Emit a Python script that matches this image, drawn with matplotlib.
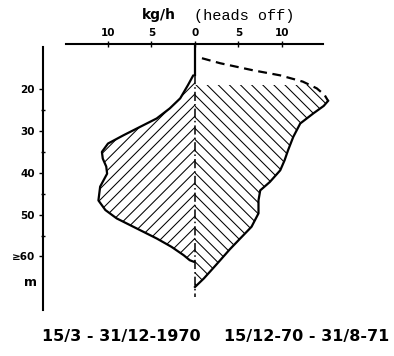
import matplotlib
matplotlib.use("Agg")
import matplotlib.pyplot as plt
import numpy as np

# catch rate (kg/h, heads off) against depth (m)
# left side: 15/3 - 31/12-1970
left_depth = [16.7, 19.0, 22.2, 24.6, 27.0, 29.0, 31.0, 33.0, 35.0, 36.6, 38.5,
              40.2, 43.3, 46.6, 48.9, 50.9, 53.3, 55.7, 57.7, 59.7, 60.9, 61.3]
left_rate = [0.2, 0.8, 1.7, 2.9, 4.4, 6.3, 8.2, 10.0, 10.7, 10.6, 10.2,
             10.1, 10.9, 11.1, 10.3, 9.0, 6.7, 4.4, 2.7, 1.3, 0.6, 0.1]

# right side: 15/12-70 - 31/8-71 (dashed where uncertain, above ~23 m)
right_depth = [12.6, 13.8, 15.5, 16.7, 18.2, 19.0, 19.8, 21.4, 22.8, 24.0, 25.8,
               28.2, 31.4, 34.6, 37.0, 39.4, 42.2, 44.2, 46.6, 49.7, 52.9, 55.7,
               58.3, 60.9, 63.0, 65.3, 67.3]
right_rate = [0.8, 2.9, 6.7, 9.8, 12.4, 13.2, 14.0, 14.9, 15.3, 14.8, 13.6,
              12.1, 11.3, 10.7, 10.3, 9.8, 8.6, 7.5, 7.3, 7.3, 6.5, 5.2,
              4.0, 2.9, 2.0, 1.0, 0.0]
dashed_until = 22.8
hatch_from = 19.0

x_ticks = [-10, -5, 0, 5, 10]
x_ticklabels = ["10", "5", "0", "5", "10"]
y_ticks = [20, 30, 40, 50, 60]
y_ticklabels = ["20", "30", "40", "50", "\u226560"]
y_minor = [25, 35, 45, 55]

plt.rcParams['hatch.linewidth'] = 0.75

W, H = 394, 356
fig = plt.figure(figsize=(W / 100, H / 100), dpi=100)
ax = fig.add_axes([43 / W, 1 - 310 / H, (330 - 43) / W, (310 - 44) / H])
ax.set_xlim(-17.47, 15.52)
ax.set_ylim(72.8, 9.2)

ld = np.array(left_depth)
lr = -np.array(left_rate)
rd = np.array(right_depth)
rr = np.array(right_rate)

# hatched areas
ax.fill_betweenx(ld, lr, 0, facecolor='none', edgecolor='black', linewidth=0, hatch='///')
m = rd >= hatch_from
ax.fill_betweenx(rd[m], 0, rr[m], facecolor='none', edgecolor='black', linewidth=0, hatch='\\\\\\')

# outlines
ax.plot(lr, ld, color='black', lw=1.6, solid_capstyle='round')
d = rd <= dashed_until
ax.plot(rr[d], rd[d], color='black', lw=1.6, linestyle=(0, (4, 2.5)))
s = rd >= dashed_until
ax.plot(rr[s], rd[s], color='black', lw=1.6)

# centre line
ax.plot([0, 0], [9.2, 16.5], color='black', lw=1.6)
ax.plot([0, 0], [16.5, 69.7], color='black', lw=1.1, linestyle=(0, (6, 2, 1, 2)))

for side in ['right', 'bottom']:
    ax.spines[side].set_visible(False)
ax.spines['top'].set_linewidth(1.5)
ax.spines['left'].set_linewidth(1.5)
ax.spines['top'].set_bounds(-14.8, 14.7)
ax.spines['left'].set_bounds(9.9, 72.8)

ax.xaxis.tick_top()
ax.set_xticks(x_ticks)
ax.set_xticklabels(x_ticklabels)
ax.tick_params(axis='x', direction='inout', length=4, width=1, pad=2,
               labelsize=7.5)
ax.set_yticks(y_ticks)
ax.set_yticklabels(y_ticklabels)
ax.set_yticks(y_minor, minor=True)
ax.tick_params(axis='y', which='major', direction='out', length=3, width=1,
               pad=3, labelsize=7.5)
ax.tick_params(axis='y', which='minor', direction='inout', length=3, width=1)
for lab in ax.get_xticklabels() + ax.get_yticklabels():
    lab.set_fontweight('bold')

fig.text(159 / W, 1 - 15 / H, "kg/h", ha='center', va='center',
         fontsize=10, fontweight='bold')
fig.text(244 / W, 1 - 16 / H, "(heads off)", ha='center', va='center',
         fontsize=11, family='Liberation Mono')
fig.text(30 / W, 1 - 282 / H, "m", ha='center', va='center',
         fontsize=9, fontweight='bold')
fig.text(42 / W, 1 - 337 / H, "15/3 - 31/12-1970", ha='left', va='center',
         fontsize=11.5, fontweight='bold')
fig.text(389 / W, 1 - 337 / H, "15/12-70 - 31/8-71", ha='right', va='center',
         fontsize=11.5, fontweight='bold')

fig.savefig("out.png", dpi=100)
